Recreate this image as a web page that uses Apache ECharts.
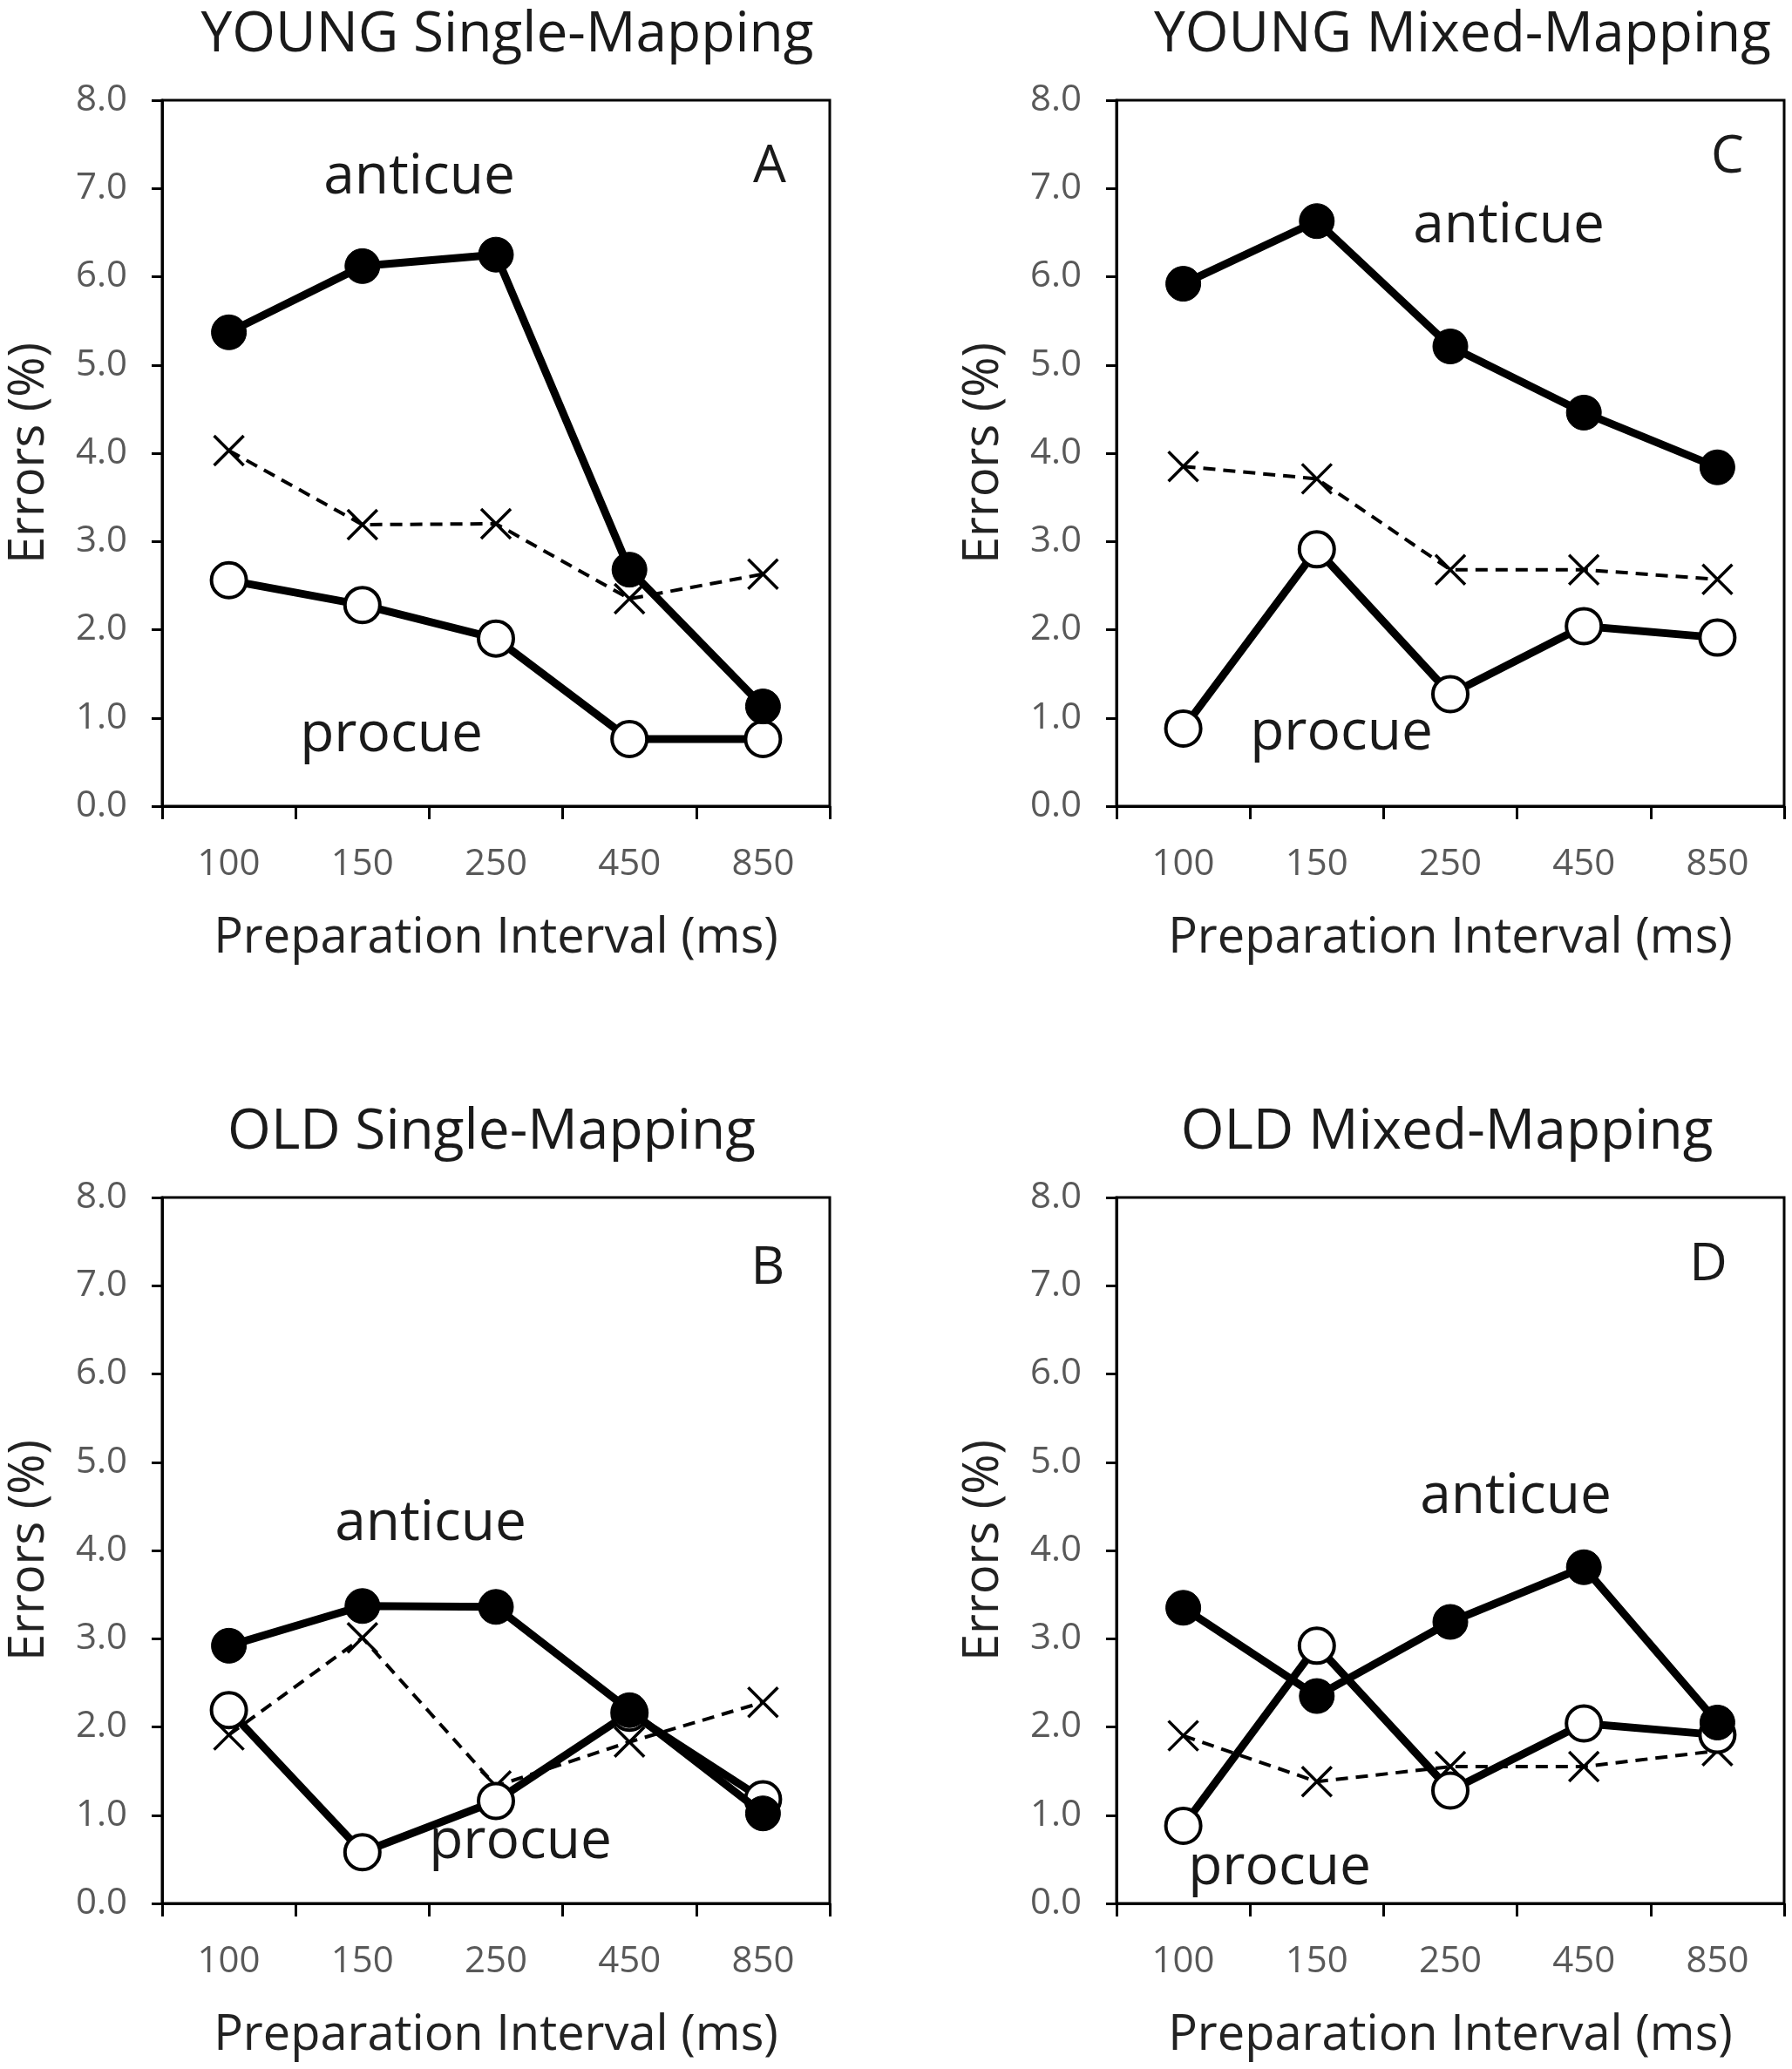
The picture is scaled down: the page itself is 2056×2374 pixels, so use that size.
<!DOCTYPE html>
<html>
<head>
<meta charset="utf-8">
<script src="https://cdn.jsdelivr.net/npm/echarts@6/dist/echarts.min.js"></script>
<style>
  html, body { margin: 0; padding: 0; background: #fff; }
  #chart { width: 2056px; height: 2374px; }
</style>
</head>
<body>
<div id="chart"></div>
<script>
// x categories (preparation interval, ms)
const categories = ['100', '150', '250', '450', '850'];

// error rates (%)
const youngSingleAnti  = [5.37, 6.12, 6.25, 2.68, 1.13];
const youngSinglePro   = [2.56, 2.28, 1.90, 0.76, 0.76];
const youngSingleCross = [4.03, 3.19, 3.20, 2.35, 2.63];

const youngMixedAnti  = [5.92, 6.63, 5.21, 4.46, 3.84];
const youngMixedPro   = [0.88, 2.91, 1.27, 2.04, 1.91];
const youngMixedCross = [3.85, 3.71, 2.68, 2.68, 2.57];

const oldSingleAnti  = [2.92, 3.37, 3.36, 2.19, 1.02];
const oldSinglePro   = [2.19, 0.58, 1.16, 2.16, 1.18];
const oldSingleCross = [1.91, 3.01, 1.33, 1.83, 2.28];

const oldMixedAnti  = [3.35, 2.35, 3.19, 3.81, 2.05];
const oldMixedPro   = [0.88, 2.92, 1.28, 2.04, 1.91];
const oldMixedCross = [1.90, 1.38, 1.55, 1.55, 1.73];

const FONT = '"Open Sans", "Noto Sans", sans-serif';

const panels = [
  {title: 'YOUNG Single-Mapping', letter: 'A', grid: {left: 186, top: 115}, anti: youngSingleAnti, pro: youngSinglePro, cross: youngSingleCross,
   titlePos: [582, 41], antiPos: [481, 204], proPos: [449, 844], letterPos: [883, 192]},
  {title: 'YOUNG Mixed-Mapping', letter: 'C', grid: {left: 1281, top: 115}, anti: youngMixedAnti, pro: youngMixedPro, cross: youngMixedCross,
   titlePos: [1678, 41], antiPos: [1731, 260], proPos: [1539, 842], letterPos: [1982, 181]},
  {title: 'OLD Single-Mapping', letter: 'B', grid: {left: 186, top: 1374}, anti: oldSingleAnti, pro: oldSinglePro, cross: oldSingleCross,
   titlePos: [564, 1300], antiPos: [494, 1749], proPos: [597, 2114], letterPos: [881, 1456]},
  {title: 'OLD Mixed-Mapping', letter: 'D', grid: {left: 1281, top: 1374}, anti: oldMixedAnti, pro: oldMixedPro, cross: oldMixedCross,
   titlePos: [1660, 1300], antiPos: [1739, 1718], proPos: [1468, 2144], letterPos: [1960, 1452]}
];

const grids = [], xAxes = [], yAxes = [], series = [], graphics = [];

panels.forEach((p, i) => {
  grids.push({
    left: p.grid.left, top: p.grid.top, width: 766, height: 810,
    show: true, borderColor: '#000', borderWidth: 3, backgroundColor: 'transparent'
  });
  xAxes.push({
    type: 'category', gridIndex: i, data: categories, boundaryGap: true,
    name: 'Preparation Interval (ms)', nameLocation: 'middle', nameGap: 124,
    nameTextStyle: {fontFamily: FONT, fontSize: 56, color: '#222'},
    axisLine: {lineStyle: {color: '#000', width: 3}},
    axisTick: {show: true, inside: false, length: 15, interval: 0, lineStyle: {color: '#000', width: 3}},
    axisLabel: {fontFamily: FONT, fontSize: 42, color: '#595959', margin: 46, interval: 0},
    splitLine: {show: false}
  });
  yAxes.push({
    type: 'value', gridIndex: i, min: 0, max: 8, interval: 1,
    name: 'Errors (%)', nameLocation: 'middle', nameGap: 124,
    nameTextStyle: {fontFamily: FONT, fontSize: 56, color: '#222'},
    axisLine: {show: true, lineStyle: {color: '#000', width: 3}},
    axisTick: {show: true, inside: false, length: 12, lineStyle: {color: '#000', width: 3}},
    axisLabel: {fontFamily: FONT, fontSize: 42, color: '#595959', margin: 40,
      formatter: v => v.toFixed(1)},
    splitLine: {show: false}
  });

  series.push({
    type: 'line', xAxisIndex: i, yAxisIndex: i, data: p.cross, z: 2,
    symbol: 'path://M0,0L10,10M10,0L0,10', symbolSize: 34,
    lineStyle: {color: '#000', width: 4, type: [14, 9]},
    itemStyle: {color: 'rgba(0,0,0,0)', borderColor: '#000', borderWidth: 3.5}
  });
  series.push({
    type: 'line', xAxisIndex: i, yAxisIndex: i, data: p.pro, z: 3,
    symbol: 'circle', symbolSize: 40,
    lineStyle: {color: '#000', width: 9},
    itemStyle: {color: '#fff', borderColor: '#000', borderWidth: 4}
  });
  series.push({
    type: 'line', xAxisIndex: i, yAxisIndex: i, data: p.anti, z: 4,
    symbol: 'circle', symbolSize: 40,
    lineStyle: {color: '#000', width: 9},
    itemStyle: {color: '#000', borderColor: '#000', borderWidth: 1}
  });

  const txt = (pos, text, size) => ({
    type: 'text', x: pos[0], y: pos[1], z: 10,
    style: {text: text, fontFamily: FONT, fontSize: size, fill: '#1a1a1a', align: 'center', verticalAlign: 'middle'}
  });
  graphics.push(txt(p.titlePos, p.title, 64));
  graphics.push(txt(p.antiPos, 'anticue', 64));
  graphics.push(txt(p.proPos, 'procue', 64));
  graphics.push(txt(p.letterPos, p.letter, 60));
});

const chart = echarts.init(document.getElementById('chart'), null, {renderer: 'canvas'});
chart.setOption({
  animation: false,
  backgroundColor: '#fff',
  grid: grids,
  xAxis: xAxes,
  yAxis: yAxes,
  series: series,
  graphic: graphics
});
</script>
</body>
</html>
